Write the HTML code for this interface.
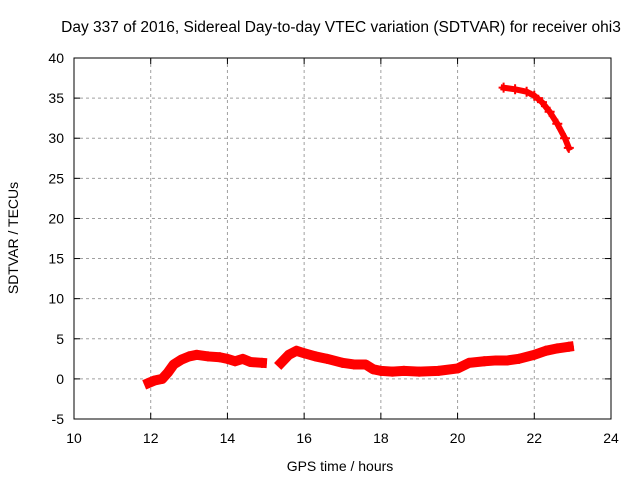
<!DOCTYPE html>
<html><head><meta charset="utf-8"><style>
body{margin:0;background:#fff}
svg{display:block;font-family:"Liberation Sans",sans-serif;font-size:14px}
</style></head><body>
<svg width="640" height="480">
<rect width="640" height="480" fill="#fff"/>
<text x="341" y="32" text-anchor="middle" style="font-size:15.5px">Day 337 of 2016, Sidereal Day-to-day VTEC variation (SDTVAR) for receiver ohi3</text>
<g id="grid"></g>
<g id="axes"></g>
<g id="series"></g>
<text x="340" y="471" text-anchor="middle">GPS time / hours</text>
<text x="18" y="238" text-anchor="middle" transform="rotate(-90 18 238)">SDTVAR / TECUs</text>
</svg>
<script>
const xTicks=[10,12,14,16,18,20,22,24];
const yTicks=[-5,0,5,10,15,20,25,30,35,40];
const seg1T=[11.95,12.1,12.3,12.45,12.6,12.8,13.0,13.2,13.5,13.8,14.0,14.2,14.4,14.6,14.9];
const seg1V=[-0.5,-0.2,0.0,0.8,1.8,2.4,2.8,3.0,2.8,2.7,2.5,2.2,2.5,2.1,2.0];
const seg2T=[15.4,15.6,15.8,16.0,16.3,16.6,17.0,17.3,17.6,17.8,18.0,18.3,18.6,19.0,19.5,20.0,20.3,20.7,21.0,21.3,21.6,22.0,22.3,22.6,22.9];
const seg2V=[2.0,3.0,3.5,3.2,2.8,2.5,2.0,1.8,1.8,1.2,1.0,0.9,1.0,0.9,1.0,1.3,2.0,2.2,2.3,2.3,2.5,3.0,3.5,3.8,4.0];
const seg3T=[21.2,21.5,21.8,22.0,22.2,22.4,22.6,22.8,22.9];
const seg3V=[36.3,36.1,35.8,35.3,34.5,33.3,31.8,30.0,28.8];
const X0=74,X1=611,Y0=419,Y1=58;
const sx=t=>X0+(t-10)/14*(X1-X0);
const sy=v=>Y0-(v+5)/45*(Y0-Y1);
const NS='http://www.w3.org/2000/svg';
function mk(tag,attrs,parent){const e=document.createElementNS(NS,tag);for(const k in attrs)e.setAttribute(k,attrs[k]);parent.appendChild(e);return e;}
const grid=document.getElementById('grid'),axes=document.getElementById('axes'),ser=document.getElementById('series');
xTicks.forEach(t=>{const x=sx(t);
 if(t>10&&t<24){const g=mk('line',{x1:x,x2:x,y1:Y1,y2:Y0,stroke:'#a0a0a0','stroke-dasharray':'3,3'},grid);
 
 }
 const l=mk('text',{x:x,y:Y0+24,'text-anchor':'middle'},axes);l.textContent=t;
 
 
 mk('line',{x1:x,x2:x,y1:Y0,y2:Y0-6,stroke:'#000'},axes);mk('line',{x1:x,x2:x,y1:Y1,y2:Y1+6,stroke:'#000'},axes);});
yTicks.forEach(v=>{const y=sy(v);
 if(v>-5&&v<40){const g=mk('line',{x1:X0,x2:X1,y1:y,y2:y,stroke:'#a0a0a0','stroke-dasharray':'3,3'},grid);
 
 }
 const l=mk('text',{x:X0-10,y:y+5,'text-anchor':'end'},axes);l.textContent=v;
 
 
 mk('line',{x1:X0,x2:X0+6,y1:y,y2:y,stroke:'#000'},axes);mk('line',{x1:X1,x2:X1-6,y1:y,y2:y,stroke:'#000'},axes);});
const fr=mk('rect',{x:X0,y:Y1,width:X1-X0,height:Y0-Y1,fill:'none',stroke:'#000'},axes);


function seg(T,V,w,name){
 const pts=T.map((t,i)=>sx(t)+','+sy(V[i])).join(' ');
 const p=mk('polyline',{points:pts,fill:'none',stroke:'#f00','stroke-width':w,'stroke-linejoin':'round','stroke-linecap':'square'},ser);
 
 
 T.forEach((t,i)=>{const x=sx(t),y=sy(V[i]);
  const m=mk('path',{d:`M${x-5},${y}h10M${x},${y-5}v10`,stroke:'#f00','stroke-width':2},ser);
  
  });
}
seg(seg1T,seg1V,10,'series-segment-1');
seg(seg2T,seg2V,10,'series-segment-2');
seg(seg3T,seg3V,6,'series-segment-3');
</script>
</body></html>
